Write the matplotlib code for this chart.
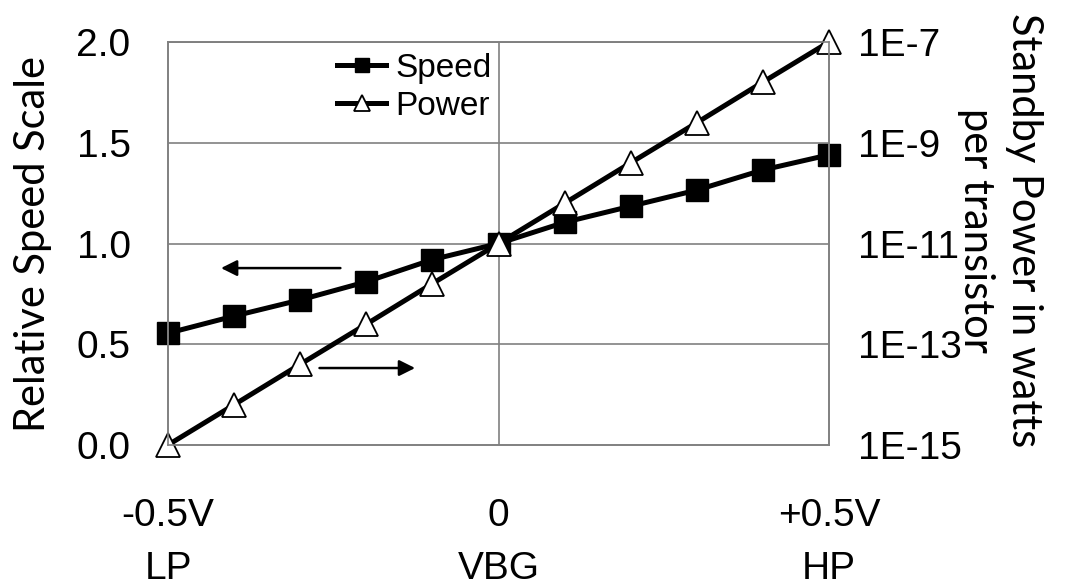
import matplotlib
matplotlib.use("Agg")
import matplotlib.pyplot as plt
import numpy as np

vbg = [-0.5, -0.4, -0.3, -0.2, -0.1, 0.0, 0.1, 0.2, 0.3, 0.4, 0.5]
speed = [0.555, 0.64, 0.72, 0.81, 0.92, 1.0, 1.105, 1.185, 1.265, 1.365, 1.44]
power = [1e-15, 6.3e-15, 4e-14, 2.5e-13, 1.6e-12, 1e-11, 6.3e-11, 4e-10, 2.5e-9, 1.6e-8, 1e-7]
x_ticks = [-0.5, 0.0, 0.5]
x_ticklabels = ["-0.5V\nLP", "0\nVBG", "+0.5V\nHP"]
left_ticks = [0.0, 0.5, 1.0, 1.5, 2.0]
right_ticks = [1e-15, 1e-13, 1e-11, 1e-9, 1e-7]
right_ticklabels = ["1E-15", "1E-13", "1E-11", "1E-9", "1E-7"]

tick_font = "Liberation Sans"
label_font = "Lato"
fs = 28

fig = plt.figure(figsize=(10.66, 5.88), dpi=100)
ax = fig.add_axes([168/1066, 1-445/588, (829-168)/1066, (445-42)/588])
ax2 = ax.twinx()

grey = "#808080"
ax.set_xlim(-0.5, 0.5)
ax.set_ylim(0, 2.0)
ax.set_yticks(left_ticks)
ax.set_yticklabels([f"{t:.1f}" for t in left_ticks], fontfamily=tick_font, fontsize=fs)
ax.set_xticks(x_ticks)
ax.set_xticklabels(x_ticklabels, fontfamily=tick_font, fontsize=28, linespacing=1.62)
ax.tick_params(axis="x", length=0, pad=38)
ax.tick_params(axis="y", length=0, pad=27)
for y in left_ticks[1:]:
    ax.axhline(y, color=grey, lw=1.2, zorder=0)
ax.axvline(0, color=grey, lw=1.2, zorder=0)
for s in list(ax.spines.values()) + list(ax2.spines.values()):
    s.set_color(grey)
    s.set_linewidth(1.2)

ax.plot(vbg, speed, color="black", lw=3.6, marker="s", markersize=15.5,
        markerfacecolor="black", markeredgecolor="black", label="Speed", clip_on=False)

ax2.set_yscale("log")
ax2.set_ylim(1e-15, 1e-7)
ax2.set_yticks(right_ticks)
ax2.set_yticklabels(right_ticklabels, fontfamily=tick_font, fontsize=fs)
ax2.minorticks_off()
ax2.tick_params(axis="y", length=0, pad=21)
ax2.plot(vbg, power, color="black", lw=3.6, marker="^", markersize=17,
         markerfacecolor="white", markeredgecolor="black", markeredgewidth=1.3,
         label="Power", clip_on=False)

ax.set_ylabel("Relative Speed Scale", fontfamily=label_font, fontsize=30)
ax.yaxis.set_label_coords((52-168)/661, 0.5)
fig.text(1000/1066, 1-230/588, "Standby Power in watts\nper transistor", rotation=270,
         fontfamily=label_font, fontsize=30, ha="center", va="center",
         linespacing=1.35, multialignment="center")

h1, l1 = ax.get_legend_handles_labels()
h2, l2 = ax2.get_legend_handles_labels()
leg = ax2.legend(h1 + h2, l1 + l2, loc="upper left", bbox_to_anchor=(0.226, 1.022),
                 frameon=False, prop={"family": tick_font, "size": 24},
                 handlelength=1.45, handletextpad=0.3, labelspacing=0.2, markerscale=0.68,
                 borderaxespad=0.2)

ax.annotate("", xy=(-0.424, 0.878), xytext=(-0.235, 0.878),
            arrowprops=dict(arrowstyle="-|>", color="black", lw=1.8, mutation_scale=24))
ax.annotate("", xy=(-0.122, 0.382), xytext=(-0.275, 0.382),
            arrowprops=dict(arrowstyle="-|>", color="black", lw=1.8, mutation_scale=24))

fig.savefig("out.png", dpi=100)
